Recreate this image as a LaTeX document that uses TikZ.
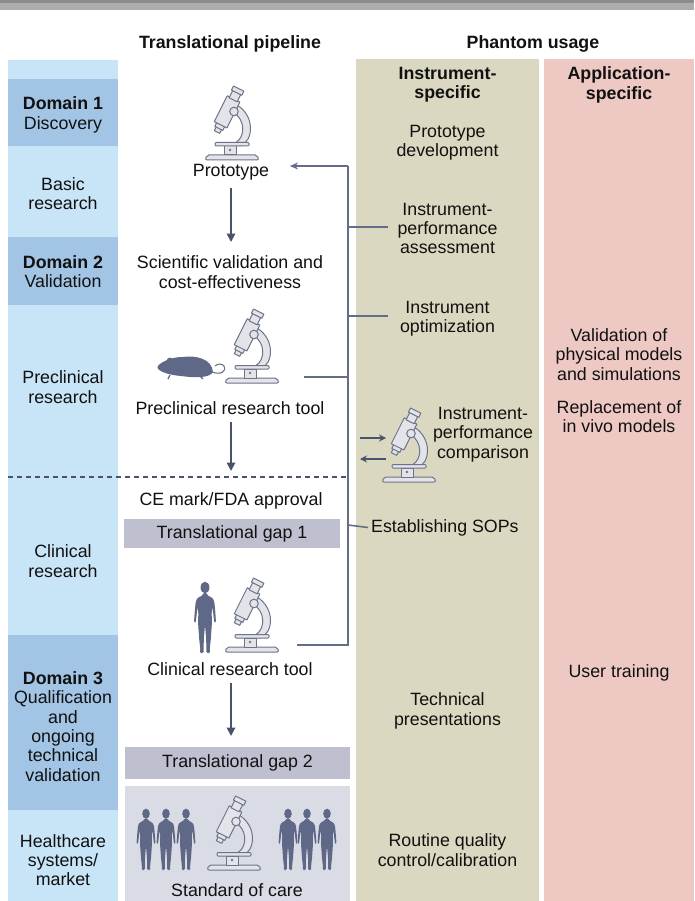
\documentclass[tikz,border=0pt]{standalone}
\usepackage{fontspec}
\setmainfont{Liberation Sans}
\usetikzlibrary{arrows.meta,calc}

\definecolor{colLight}{HTML}{C8E4F7}
\definecolor{colDomain}{HTML}{A2C5E5}
\definecolor{colInstr}{HTML}{DBD8C1}
\definecolor{colAppl}{HTML}{EEC9C4}
\definecolor{colGap}{HTML}{BEC0D0}
\definecolor{colCare}{HTML}{D9DBE5}
\definecolor{colLine}{HTML}{646D86}
\definecolor{colArrow}{HTML}{49536C}
\definecolor{colFig}{HTML}{5F6887}
\definecolor{micFill}{HTML}{E3E4E9}
\definecolor{micLine}{HTML}{6E7488}
\definecolor{colText}{HTML}{111111}
\definecolor{barDark}{HTML}{8C8C8C}
\definecolor{barLight}{HTML}{ADADAD}

\newcommand\diagfont{\fontsize{17.8}{19.3}\selectfont}
% box given by its corners in the current (possibly slanted) frame
\newcommand\slantbox[4]{(#1,#2) -- (#3,#2) -- (#3,#4) -- (#1,#4) -- cycle}

\tikzset{
  lbl/.style={align=center, font=\diagfont, text=colText, inner sep=2pt, yshift=-1.5pt},
  hdr/.style={align=center, font=\diagfont\bfseries, text=colText, inner sep=2pt, yshift=-1.5pt},
  gapbox/.style={lbl, fill=colGap, inner sep=0pt},
  flowarrow/.style={draw=colArrow, line width=1.8pt, -{Triangle[length=8.5pt,width=8.5pt]}},
  bus/.style={draw=colLine, line width=1.6pt},
  busarrow/.style={bus, -{Stealth[length=8pt,width=7pt]}},
  smallarrow/.style={draw=colArrow, line width=1.8pt, -{Stealth[length=7pt,width=7pt]}},
  micstyle/.style={fill=micFill, draw=micLine, line width=1pt, line join=round},
  % microscope, origin at the lower left end of its base
  microscope/.pic={
    % arm
    \filldraw[micstyle] (35,-14) .. controls (49,-19) and (50,-44) .. (32,-55)
       -- (28,-48) .. controls (41,-40) and (40,-23) .. (31,-17.5) -- cycle;
    % base
    \filldraw[micstyle, rounded corners=2pt] (0,0) -- (54,0) -- (52,-5) -- (2,-5) -- cycle;
    % pillar
    \filldraw[micstyle] (19,-5) rectangle (31,-14);
    \fill[micLine] (25,-10) circle (1.3);
    % stage
    \filldraw[micstyle, rounded corners=1pt] (10,-14) rectangle (44,-17.5);
    % tilted tube, drawn in a frame running along its axis
    \begin{scope}[shift={(12,-28)}, x={(0.894pt,-0.447pt)}, y={(0.447pt,0.894pt)}]
      \filldraw[micstyle] \slantbox{-3}{0}{3}{5};
      \filldraw[micstyle] \slantbox{-4.5}{4}{4.5}{9};
      \filldraw[micstyle] \slantbox{-7}{8}{7}{37};
      \filldraw[micstyle] \slantbox{-4.5}{36}{4.5}{45};
      \filldraw[micstyle] \slantbox{-5.8}{44}{5.8}{48.5};
    \end{scope}
    % focus knob
    \filldraw[micstyle] (29,-48.5) circle (4.3);
  },
  % standing human silhouette, origin between the feet
  person/.pic={
    \fill[colFig] (0,-65.5) ellipse (4.4 and 5.8);
    \fill[colFig, rounded corners=1.2pt]
      (-2,-60) -- (2,-60) -- (2.4,-57.5) -- (7,-55.5) -- (9.2,-52) -- (10.2,-42)
      -- (11,-31) -- (9.4,-30) -- (8.4,-38) -- (7.6,-46) -- (6.6,-40) -- (7,-31)
      -- (5.8,-14) -- (4.6,-3) -- (5.2,0) -- (1.4,0) -- (1.2,-14) -- (0,-28)
      -- (-1.2,-14) -- (-1.4,0) -- (-5.2,0) -- (-4.6,-3) -- (-5.8,-14) -- (-7,-31)
      -- (-6.6,-40) -- (-7.6,-46) -- (-8.4,-38) -- (-9.4,-30) -- (-11,-31)
      -- (-10.2,-42) -- (-9.2,-52) -- (-7,-55.5) -- (-2.4,-57.5) -- cycle;
  }
}

\begin{document}
\begin{tikzpicture}[x=1pt,y=-1pt]
\useasboundingbox (0,0) rectangle (694,901);
\fill[white] (0,0) rectangle (694,901);

% strip along the top edge
\fill[barLight] (0,0) rectangle (694,10);
\fill[barDark] (0,0) rectangle (694,3.5);

% column backgrounds
\fill[colLight] (8,60) rectangle (118,901);
\fill[colDomain] (8,79) rectangle (118,146);
\fill[colDomain] (8,237) rectangle (118,305);
\fill[colDomain] (8,635) rectangle (118,810);
\fill[colInstr] (356,59) rectangle (539,901);
\fill[colAppl] (544,59) rectangle (694,901);
\fill[colCare] (125,786) rectangle (350,901);

% column headings
\node[hdr] (hPipe) at (230,42) {Translational pipeline};
\node[hdr] (hPhantom) at (533,42) {Phantom usage};
\node[hdr] (hInstr) at (447.5,83.5) {Instrument-\\specific};
\node[hdr] (hAppl) at (619,83.5) {Application-\\specific};

% stages of the translational pipeline
\node[lbl] (dom1) at (63,113.5) {\textbf{Domain 1}\\Discovery};
\node[lbl] (basic) at (63,192) {Basic\\research};
\node[lbl] (dom2) at (63,270) {\textbf{Domain 2}\\Validation};
\node[lbl] (precl) at (63,385.5) {Preclinical\\research};
\node[lbl] (clin) at (63,559.5) {Clinical\\research};
\node[lbl] (dom3) at (63,725) {\textbf{Domain 3}\\Qualification\\and\\ongoing\\technical\\validation};
\node[lbl] (health) at (63,858.5) {Healthcare\\systems/\\market};

% pipeline steps
\pic at (205,160) {microscope};
\node[lbl] (proto) at (231,171) {Prototype};
\node[lbl] (scival) at (230,270.5) {Scientific validation and\\cost-effectiveness};
\pic at (225,383) {microscope};
\node[lbl] (pretool) at (230,407) {Preclinical research tool};
\node[lbl] (ce) at (231,499) {CE mark/FDA approval};
\node[gapbox, minimum width=216pt, minimum height=29pt] (gap1) at (232,532) {Translational gap 1};
\path (205,653) pic {person};
\pic at (225,652) {microscope};
\node[lbl] (clintool) at (230,668) {Clinical research tool};
\node[gapbox, minimum width=225pt, minimum height=32pt] (gap2) at (237.5,761.5) {Translational gap 2};
\foreach \px in {146,166,186,288,307,327} \path (\px,870) pic[scale=0.86] {person};
\pic at (207,870) {microscope};
\node[lbl] (care) at (237,889) {Standard of care};

% laboratory mouse
\fill[colFig] (213,372) .. controls (212,359) and (196,355) .. (183,357)
  .. controls (175,357) and (168,359) .. (163,362)
  .. controls (160,364) and (156,366) .. (158,369)
  .. controls (161,372) and (169,375) .. (181,376)
  .. controls (195,378) and (210,378) .. (213,372) -- cycle;
\fill[colFig] (170,361) circle (3.4);
\draw[colFig, line width=1.2pt] (170,375) -- (168,379);
\draw[colFig, line width=1.2pt] (200,376) -- (203,379);
\draw[micLine, line width=1.1pt] (212,372) .. controls (220,375) and (227,372) .. (224,366)
  .. controls (222,363) and (217,364) .. (215,366);

% phantom uses, instrument-specific
\node[lbl] (protodev) at (447.5,141.5) {Prototype\\development};
\node[lbl] (perfassess) at (447.5,227) {Instrument-\\performance\\assessment};
\node[lbl] (optim) at (447.5,317.5) {Instrument\\optimization};
\pic at (382,482) {microscope};
\node[lbl] (perfcomp) at (483,433) {Instrument-\\performance\\comparison};
\node[lbl, anchor=west, inner sep=3pt] (sops) at (368,526) {Establishing SOPs};
\node[lbl] (techpres) at (447.5,709.5) {Technical\\presentations};
\node[lbl] (qc) at (447.5,848.5) {Routine quality\\control/calibration};

% phantom uses, application-specific
\node[lbl] (valmod) at (619,353) {Validation of\\physical models\\and simulations};
\node[lbl] (invivo) at (619,415) {Replacement of\\in vivo models};
\node[lbl] (training) at (619,671) {User training};

% flow arrows down the pipeline
\coordinate (a1s) at (231,188);
\coordinate (a1e) at (231,242);
\draw[flowarrow] (a1s) -- (a1e);
\coordinate (a2s) at (231,422);
\coordinate (a2e) at (231,471);
\draw[flowarrow] (a2s) -- (a2e);
\coordinate (a3s) at (231,683);
\coordinate (a3e) at (231,736);
\draw[flowarrow] (a3s) -- (a3e);

% regulatory boundary
\coordinate (dashL) at (8,477);
\coordinate (dashR) at (348,477);
\draw[colArrow, line width=1.2pt, dash pattern=on 5pt off 4pt] (dashL) -- (dashR);

% feedback bus between pipeline and phantom uses
\coordinate (busTop) at (348,166);
\coordinate (protoIn) at (290,166);
\coordinate (busBot) at (348,645);
\coordinate (clinOut) at (297,645);
\draw[bus] (clinOut) -- (busBot) -- (busTop);
\draw[busarrow] (busTop) -- (protoIn);
\coordinate (br1) at (348,227);  \coordinate (br1e) at (388,227);
\coordinate (br2) at (348,316);  \coordinate (br2e) at (388,316);
\coordinate (br3) at (348,377);  \coordinate (br3e) at (304,377);
\coordinate (br4) at (348,525);
\draw[bus] (br1) -- (br1e);
\draw[bus] (br2) -- (br2e);
\draw[bus] (br3) -- (br3e);
\draw[bus] (br4) -- (sops.west);

% comparison arrows
\coordinate (cmpL1) at (360,438); \coordinate (cmpR1) at (386,438);
\coordinate (cmpL2) at (360,459); \coordinate (cmpR2) at (386,459);
\draw[smallarrow] (cmpL1) -- (cmpR1);
\draw[smallarrow] (cmpR2) -- (cmpL2);
\end{tikzpicture}
\end{document}
